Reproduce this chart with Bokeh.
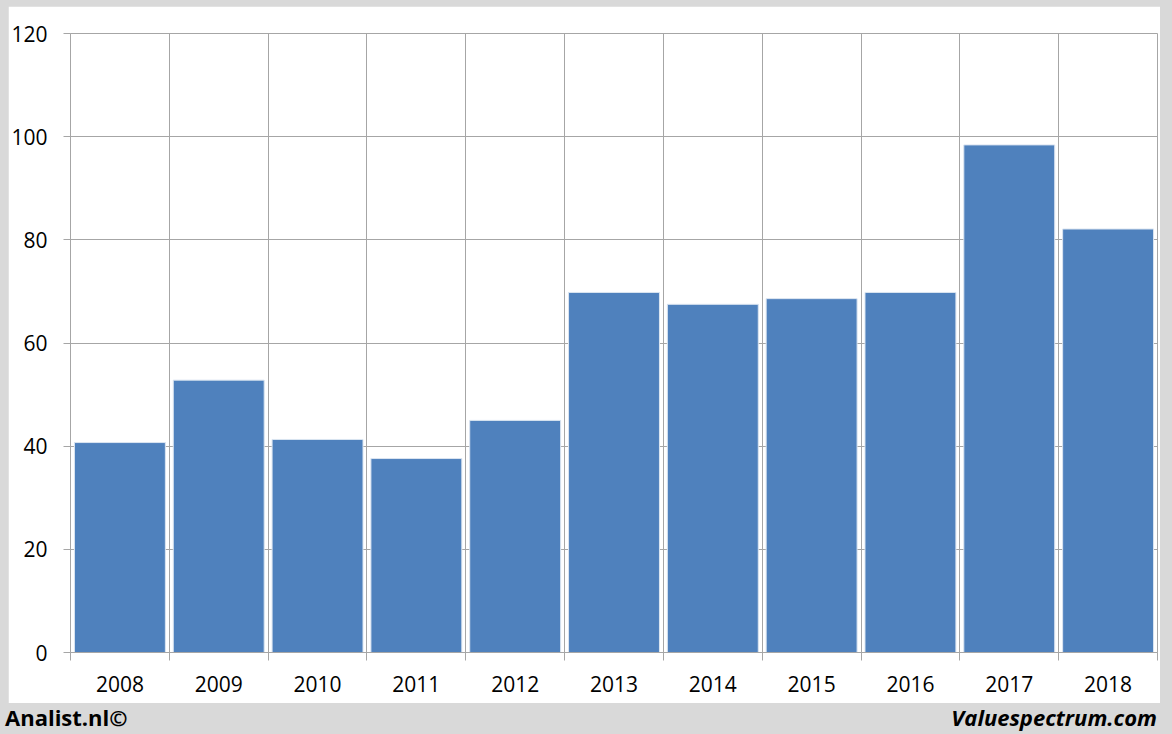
from bokeh.plotting import figure
from bokeh.models import Range1d, FixedTicker, Div
from bokeh.layouts import column
from bokeh.embed import file_html
from bokeh.resources import INLINE

years = ["2008", "2009", "2010", "2011", "2012", "2013", "2014", "2015", "2016", "2017", "2018"]
values = [40.7, 52.8, 41.3, 37.6, 45.0, 69.8, 67.5, 68.6, 69.8, 98.4, 82.1]
y_ticks = [0, 20, 40, 60, 80, 100, 120]
footer_left = "Analist.nl©"
footer_right = "Valuespectrum.com"

GRID = "#a6a6a6"
BAR = "#4f81bd"
BG = "#d9d9d9"
FONT = "Open Sans"

n = len(years)
centers = [i + 0.5 for i in range(n)]

p = figure(width=1152, height=697, output_backend="svg", toolbar_location=None,
           x_range=Range1d(0, n), y_range=Range1d(0, 120),
           min_border_left=60, min_border_right=3, min_border_top=27, min_border_bottom=51)
p.margin = (6, 12, 0, 8)
p.border_fill_color = "white"
p.background_fill_color = "white"
p.outline_line_color = GRID

p.vbar(x=centers, top=values, width=0.92, bottom=0, fill_color=BAR,
       line_color="#dbe5f1", line_width=1)

# x axis: labels at centres, ticks at category boundaries
p.xaxis.ticker = FixedTicker(ticks=centers, minor_ticks=list(range(n + 1)))
p.xaxis.major_label_overrides = {c: y for c, y in zip(centers, years)}
p.xaxis.major_tick_line_color = None
p.xaxis.minor_tick_line_color = GRID
p.xaxis.minor_tick_out = 8
p.xaxis.minor_tick_in = 0
p.xaxis.axis_line_color = GRID
p.xaxis.major_label_standoff = 15
p.xaxis.major_label_text_font = FONT
p.xaxis.major_label_text_font_size = "21px"
p.xaxis.major_label_text_color = "black"

p.yaxis.ticker = FixedTicker(ticks=y_ticks)
p.yaxis.major_tick_line_color = GRID
p.yaxis.major_tick_out = 7
p.yaxis.major_tick_in = 0
p.yaxis.minor_tick_line_color = None
p.yaxis.axis_line_color = GRID
p.yaxis.major_label_standoff = 16
p.yaxis.major_label_text_font = FONT
p.yaxis.major_label_text_font_size = "21px"
p.yaxis.major_label_text_color = "black"

p.xgrid.ticker = FixedTicker(ticks=list(range(n + 1)))
p.xgrid.grid_line_color = GRID
p.ygrid.ticker = FixedTicker(ticks=y_ticks)
p.ygrid.grid_line_color = GRID

# footer
footer_html = (
    '<div style="position:relative;width:1172px;height:31px;'
    "font-family:'Open Sans';font-weight:bold;font-size:22px;color:#000;line-height:28px;\">"
    f'<span style="position:absolute;left:5px;top:0px;height:28px;white-space:nowrap;">{footer_left}</span>'
    f'<span style="position:absolute;right:15px;top:0px;height:28px;font-style:italic;white-space:nowrap;">{footer_right}</span>'
    '</div>'
)
f = Div(text=footer_html, width=1172, height=31, margin=0,
        styles={"background-color": BG})

layout = column(p, f, spacing=0, width=1172, height=734,
                styles={"background-color": BG})

open("out.html", "w").write(file_html(layout, INLINE))
